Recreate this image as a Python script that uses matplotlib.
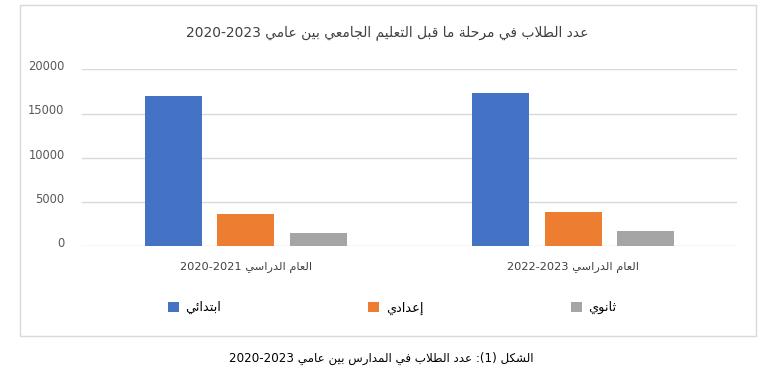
import re
import numpy as np
import matplotlib
matplotlib.use('Agg')
import matplotlib.pyplot as plt
from matplotlib.patches import Rectangle
import matplotlib.transforms as mtransforms

# data
categories = ['العام الدراسي 2020-2021', 'العام الدراسي 2022-2023']
series_names = ['ابتدائي', 'إعدادي', 'ثانوي']
primary = [17000, 17300]
preparatory = [3650, 3900]
secondary = [1500, 1750]
colors = ['#4472C4', '#ED7D31', '#A5A5A5']
title = 'عدد الطلاب في مرحلة ما قبل التعليم الجامعي بين عامي 2020-2023'
caption = 'الشكل (1): عدد الطلاب في المدارس بين عامي 2020-2023'

# matplotlib has no arabic shaping, so do a small one by hand
# letter -> (first presentation form, joins to next letter)
FORMS = {
    '\u0627': (0xFE8D, False), '\u0625': (0xFE87, False), '\u0626': (0xFE89, True),
    '\u0628': (0xFE8F, True), '\u0629': (0xFE93, False), '\u062A': (0xFE95, True),
    '\u062B': (0xFE99, True), '\u062C': (0xFE9D, True), '\u062D': (0xFEA1, True),
    '\u062F': (0xFEA9, False), '\u0631': (0xFEAD, False), '\u0633': (0xFEB1, True),
    '\u0634': (0xFEB5, True), '\u0637': (0xFEC1, True), '\u0639': (0xFEC9, True),
    '\u0641': (0xFED1, True), '\u0642': (0xFED5, True), '\u0643': (0xFED9, True),
    '\u0644': (0xFEDD, True), '\u0645': (0xFEE1, True), '\u0646': (0xFEE5, True),
    '\u0648': (0xFEED, False), '\u064A': (0xFEF1, True),
}
LAMALEF = {'\u0627': 0xFEFB, '\u0625': 0xFEF9}
NUM = r'[0-9]+(?:-[0-9]+)*'


def shape(s):
    out = []
    i = 0
    while i < len(s):
        c = s[i]
        if c not in FORMS:
            out.append(c)
            i += 1
            continue
        prev = s[i-1] if i > 0 else ''
        joins_prev = prev in FORMS and FORMS[prev][1]
        if c == '\u0644' and i+1 < len(s) and s[i+1] in LAMALEF:
            base = LAMALEF[s[i+1]]
            out.append(chr(base + 1 if joins_prev else base))
            i += 2
            continue
        base, dual = FORMS[c]
        nxt = s[i+1] if i+1 < len(s) else ''
        joins_next = dual and nxt in FORMS
        if joins_prev and joins_next:
            k = 3
        elif joins_prev:
            k = 1
        elif joins_next:
            k = 2
        else:
            k = 0
        out.append(chr(base + k))
        i += 1
    return ''.join(out)


def ar(s):
    parts = re.split('(' + NUM + ')', shape(s))
    mirror = str.maketrans('()', ')(')
    vis = []
    for p in reversed(parts):
        if re.fullmatch(NUM, p):
            vis.append(p)
        else:
            vis.append(p[::-1].translate(mirror))
    return ''.join(vis)


W, H = 780, 386
fig = plt.figure(figsize=(W/100, H/100), dpi=100)
fig.patch.set_facecolor('white')

# chart border
fig.patches.append(Rectangle((19.5/W, 1-336/H), 736.5/W, 331/H, transform=fig.transFigure,
                             fill=False, edgecolor='#d9d9d9', linewidth=1.0))

ax = fig.add_axes([82/W, 1-246.3/H, 655/W, 177/H])
x = np.arange(len(categories))
width = 0.174
step = 0.2214
series = [primary, preparatory, secondary]
for k, vals in enumerate(series):
    ax.bar(x + (k-1)*step, vals, width, color=colors[k], label=ar(series_names[k]), zorder=3)

ax.set_xlim(-0.5, 1.5)
ax.set_ylim(0, 20000)
ax.set_yticks(np.arange(0, 20001, 5000))
ax.grid(axis='y', color='#d9d9d9', linewidth=1.0, zorder=0)
for s in ax.spines.values():
    s.set_visible(False)
ax.tick_params(axis='both', length=0)
ax.tick_params(axis='y', pad=12.5, labelsize=8.3, labelcolor='#595959')
ax.set_xticks(x)
ax.set_xticklabels([ar(c) for c in categories], fontsize=8.2, color='#404040')
ax.tick_params(axis='x', pad=11)
off = mtransforms.ScaledTranslation(0, 3/72, fig.dpi_scale_trans)
for lab in ax.get_yticklabels():
    lab.set_transform(lab.get_transform() + off)

fig.text(387/W, 1-33/H, ar(title), ha='center', va='center', fontsize=10, color='#404040')

fig.legend(loc='center', bbox_to_anchor=(392/W, 1-308/H), ncol=3, frameon=False,
           fontsize=9.3, handlelength=0.85, handleheight=0.85, handletextpad=0.5,
           columnspacing=11.4)

fig.text(381/W, 1-358/H, ar(caption), ha='center', va='center', fontsize=8.6, color='black')

fig.savefig('out.png', dpi=100)
